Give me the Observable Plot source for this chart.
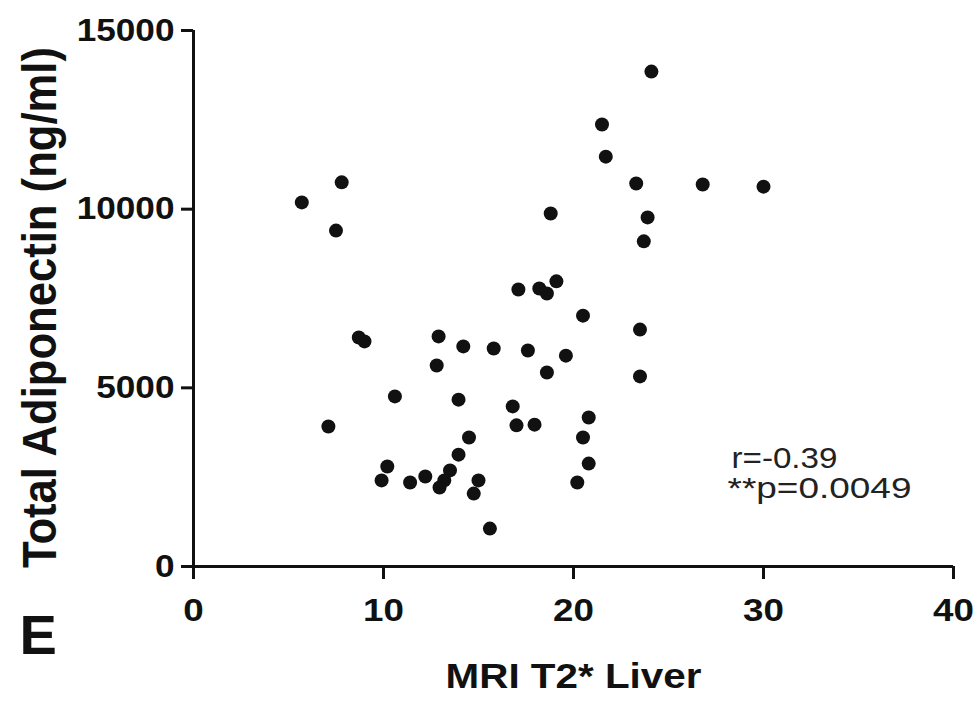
<!DOCTYPE html>
<html>
<head>
<meta charset="utf-8">
<script src="https://cdn.jsdelivr.net/npm/d3@7"></script>
<script src="https://cdn.jsdelivr.net/npm/@observablehq/plot@0.6"></script>
<style>
  html, body { margin: 0; padding: 0; background: #fff; overflow: hidden; }
  #chart svg { display: block; }
</style>
</head>
<body>
<div id="chart"></div>
<script>
// MRI T2* Liver (x) vs Total Adiponectin in ng/ml (y)
const mriT2Liver = [
  5.7, 7.8, 7.5, 24.1, 21.5, 21.7, 23.3, 26.8, 30.0, 23.9,
  23.7, 18.8, 19.1, 17.1, 18.2, 18.6, 20.5, 23.5, 15.8, 17.6,
  19.6, 18.6, 23.5, 16.8, 17.0, 17.95, 20.8, 20.5, 20.8, 20.2,
  8.7, 9.0, 12.9, 14.2, 12.8, 10.6, 13.95, 7.1, 14.5, 13.95,
  13.5, 13.2, 12.95, 10.2, 9.9, 11.4, 12.2, 15.0, 14.75, 15.6
];
const adiponectin = [
  10190, 10750, 9400, 13850, 12370, 11470, 10720, 10690, 10630, 9770,
  9100, 9880, 7980, 7750, 7780, 7640, 7020, 6630, 6100, 6045,
  5900, 5430, 5320, 4480, 3950, 3970, 4170, 3610, 2880, 2350,
  6410, 6300, 6440, 6160, 5625, 4760, 4670, 3920, 3610, 3130,
  2690, 2410, 2210, 2800, 2410, 2350, 2520, 2410, 2040, 1060
];
const xTicks = [0, 10, 20, 30, 40];
const yTicks = [0, 5000, 10000, 15000];
const xDomain = [0, 40];
const yDomain = [0, 15000];
const xTitle = "MRI T2* Liver";
const yTitle = "Total Adiponectin (ng/ml)";
const panelLetter = "E";
const statR = "r=-0.39";
const statP = "**p=0.0049";

const points = mriT2Liver.map((x, i) => ({x, y: adiponectin[i]}));
const ink = "#111";

const plot = Plot.plot({
  width: 980,
  height: 703,
  marginLeft: 193,
  marginRight: 27,
  marginTop: 30,
  marginBottom: 137,
  x: {domain: xDomain},
  y: {domain: yDomain},
  style: {fontFamily: "'Liberation Sans', Arial, sans-serif", color: ink, background: "#fff"},
  marks: [
    Plot.ruleX([xDomain[0]], {stroke: ink, strokeWidth: 3}),
    Plot.ruleY([yDomain[0]], {stroke: ink, strokeWidth: 3}),
    Plot.axisX(xTicks, {tickSize: 13, tickPadding: 19, strokeWidth: 3, fontSize: 32, fontWeight: "bold", label: null, tickFormat: d => String(d)}),
    Plot.axisY(yTicks, {tickSize: 12, tickPadding: 7, strokeWidth: 3, fontSize: 32, fontWeight: "bold", label: null, tickFormat: d => String(d)}),
    Plot.dot(points, {x: "x", y: "y", r: 7, fill: ink, stroke: null}),
    Plot.text([xTitle], {frameAnchor: "bottom", dy: 121, lineAnchor: "bottom", textAnchor: "middle", fontSize: 36, fontWeight: "bold", fill: ink}),
    Plot.text([yTitle], {frameAnchor: "left", dx: -138, dy: 9, rotate: -90, lineAnchor: "bottom", textAnchor: "middle", fontSize: 48, fontWeight: "bold", fill: ink}),
    Plot.text([panelLetter], {frameAnchor: "bottom-left", dx: -174, dy: 87, lineAnchor: "bottom", textAnchor: "start", fontSize: 56, fontWeight: "bold", fill: ink}),
    Plot.text([statR], {frameAnchor: "bottom-right", dx: -222, dy: -99, lineAnchor: "bottom", textAnchor: "start", fontSize: 30, fill: "#222"}),
    Plot.text([statP], {frameAnchor: "bottom-right", dx: -226, dy: -69, lineAnchor: "bottom", textAnchor: "start", fontSize: 30, fill: "#222"})
  ]
});

document.getElementById("chart").append(plot);

// The reference typography is horizontally stretched; mimic it with a local scale
// along the text direction, about each text's own anchor point.
function stretchNode(node, target) {
  const w = node.getBBox().width;
  if (!w) return;
  const t = typeof target === "function" ? target(w) : target;
  const k = t / w;
  const x = parseFloat(node.getAttribute("x")) || 0;
  const T = node.getAttribute("transform") || "";
  node.setAttribute("transform", `${T} translate(${x},0) scale(${k.toFixed(4)},1) translate(${-x},0)`);
}
const allText = Array.from(plot.querySelectorAll("text"));
function byContent(s) { return allText.filter(n => n.textContent === s); }
function byAxis(axis) {
  return allText.filter(n => {
    const g = n.closest("g[aria-label]");
    const lab = g ? g.getAttribute("aria-label") : "";
    return lab.startsWith(axis + "-axis") && lab.includes("label");
  });
}
byAxis("x").forEach(n => stretchNode(n, w => w * 1.15));
byAxis("y").forEach(n => stretchNode(n, w => w * 1.1));
byContent(xTitle).forEach(n => stretchNode(n, 256));
byContent(yTitle).forEach(n => stretchNode(n, 521));
byContent(statR).forEach(n => stretchNode(n, 106));
byContent(statP).forEach(n => stretchNode(n, 184));
</script>
</body>
</html>
